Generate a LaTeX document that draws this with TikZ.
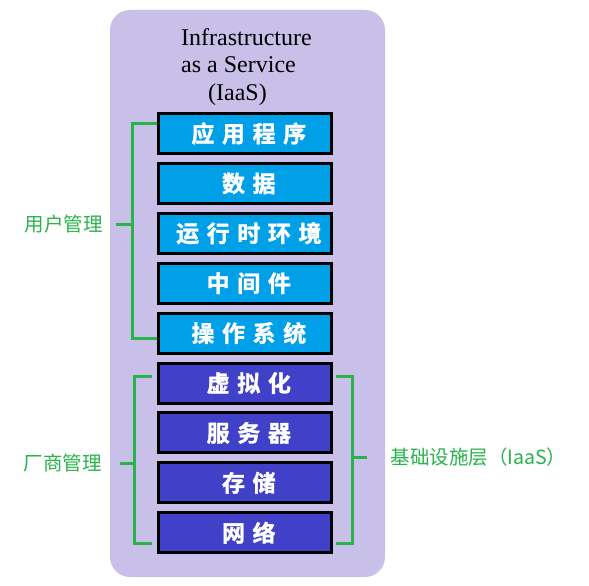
\documentclass[tikz,border=0pt]{standalone}
\usepackage{fontspec}
\setmainfont{Liberation Serif}
\newfontfamily\titlefont{Liberation Serif}
\newfontfamily\cjkfont{Noto Sans CJK SC}
\newfontfamily\cjkboldfont[LetterSpace=33, FakeBold=1.5]{Noto Sans CJK SC Bold}
\usetikzlibrary{positioning}
\definecolor{panelcolor}{RGB}{200,192,232}
\definecolor{usercolor}{RGB}{0,160,232}
\definecolor{vendorcolor}{RGB}{64,64,200}
\definecolor{bracketcolor}{RGB}{40,180,75}
\tikzset{
    layer/.style = {draw=black, line width=3pt, minimum width=173pt, minimum height=40pt, inner sep=0pt, text=white, font=\cjkboldfont\fontsize{23}{23}\selectfont, execute at end node={\kern-7.6pt}},
    user_layer/.style = {layer, fill=usercolor},
    vendor_layer/.style = {layer, fill=vendorcolor},
    bracket/.style = {draw=bracketcolor, line width=3pt},
    glabel/.style = {text=bracketcolor, font=\cjkfont\fontsize{19.5}{19.5}\selectfont, inner sep=0pt},
    title/.style = {font=\titlefont\fontsize{24}{27}\selectfont, inner sep=0pt, anchor=base west}
}
\begin{document}
\begin{tikzpicture}[x=1pt, y=-1pt, node distance=6.9pt]
    \useasboundingbox (0,0) rectangle (589,586);
    \fill[panelcolor, rounded corners=20pt] (110,10) rectangle (385,577);

    % title
    \node[title] (title1) at (181,46) {Infrastructure};
    \node[title] (title2) at (181,73) {as a Service};
    \node[title] (title3) at (208,100) {(IaaS)};

    % layers
    \node[user_layer] (app) at (245,133.5) {应用程序};
    \node[user_layer, below=of app] (data) {数据};
    \node[user_layer, below=of data] (runtime) {运行时环境};
    \node[user_layer, below=of runtime] (middleware) {中间件};
    \node[user_layer, below=of middleware] (os) {操作系统};
    \node[vendor_layer, below=of os] (virt) {虚拟化};
    \node[vendor_layer, below=of virt] (server) {服务器};
    \node[vendor_layer, below=of server] (storage) {存储};
    \node[vendor_layer, below=of storage] (network) {网络};

    % brackets
    \draw[bracket] ([yshift=10pt]app.west) -- ++(-25pt,0) |- ([yshift=-5.5pt]os.west);
    \coordinate (user_mid) at (132,224);
    \draw[bracket] (user_mid) -- ++(-16pt,0) node[glabel, left=12pt] (user_label) {用户管理};

    \draw[bracket] ([xshift=-5pt,yshift=7pt]virt.west) -- ++(-18pt,0) |- ([xshift=-5pt,yshift=-11pt]network.west);
    \coordinate (vendor_mid) at (134,463);
    \draw[bracket] (vendor_mid) -- ++(-14pt,0) node[glabel, left=17pt] (vendor_label) {厂商管理};

    \draw[bracket] ([xshift=3pt,yshift=7pt]virt.east) -- ++(16pt,0) |- ([xshift=3pt,yshift=-11pt]network.east);
    \coordinate (infra_mid) at (352,457);
    \draw[bracket] (infra_mid) -- ++(15pt,0) node[glabel, right=22pt] (infra_label) {基础设施层（IaaS）};
\end{tikzpicture}
\end{document}
